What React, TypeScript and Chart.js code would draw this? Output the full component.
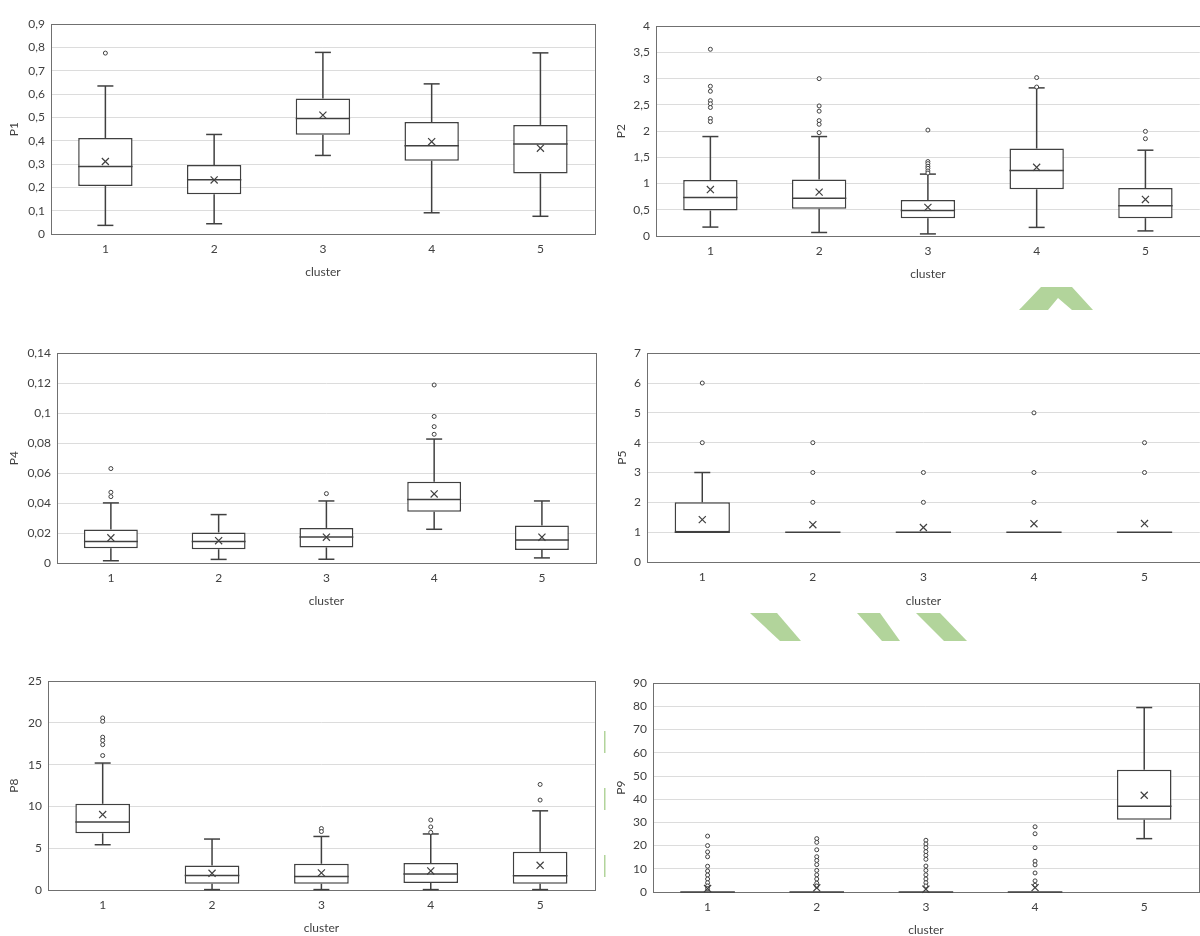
import React, { useEffect, useRef } from 'react';
import { Chart, registerables } from 'chart.js';
Chart.register(...registerables);

Chart.defaults.font.family = 'Lato, "Open Sans", sans-serif';
Chart.defaults.font.size = 12;
Chart.defaults.color = '#404040';

const INK = '#404040';
const GRID = '#dcdcdc';
const FRAME = '#707070';

const clusters = ['1', '2', '3', '4', '5'];

// P1
const p1Min = [0.037, 0.044, 0.337, 0.091, 0.076];
const p1Q1 = [0.206, 0.17, 0.426, 0.314, 0.259];
const p1Med = [0.29, 0.233, 0.496, 0.379, 0.386];
const p1Q3 = [0.412, 0.296, 0.581, 0.48, 0.468];
const p1Max = [0.635, 0.427, 0.779, 0.644, 0.777];
const p1Mean = [0.311, 0.232, 0.51, 0.396, 0.368];
const p1Out = [[0.776], [], [], [], []];

// P2
const p2Min = [0.17, 0.067, 0.04, 0.164, 0.097];
const p2Q1 = [0.485, 0.52, 0.34, 0.89, 0.34];
const p2Med = [0.733, 0.72, 0.485, 1.248, 0.576];
const p2Q3 = [1.067, 1.078, 0.685, 1.667, 0.915];
const p2Max = [1.896, 1.896, 1.18, 2.824, 1.636];
const p2Mean = [0.885, 0.836, 0.545, 1.31, 0.697];
const p2Out = [
  [3.56, 2.855, 2.76, 2.58, 2.52, 2.45, 2.24, 2.18],
  [3.0, 2.48, 2.38, 2.2, 2.13, 1.97],
  [2.02, 1.42, 1.38, 1.33, 1.29, 1.24, 1.2],
  [3.02, 2.84],
  [1.995, 1.855],
];

// P4
const p4Min = [0.0015, 0.0024, 0.0025, 0.0225, 0.0034];
const p4Q1 = [0.0098, 0.0092, 0.0104, 0.0342, 0.0087];
const p4Med = [0.0143, 0.0143, 0.0174, 0.0424, 0.0153];
const p4Q3 = [0.0223, 0.0204, 0.0234, 0.0543, 0.0251];
const p4Max = [0.0401, 0.0323, 0.0414, 0.0827, 0.0414];
const p4Mean = [0.0168, 0.0149, 0.0172, 0.0461, 0.0172];
const p4Out = [[0.063, 0.0472, 0.0443], [], [0.0463], [0.1188, 0.0978, 0.091, 0.0859], []];

// P5
const p5Min = [1, 1, 1, 1, 1];
const p5Q1 = [1, 1, 1, 1, 1];
const p5Med = [1, 1, 1, 1, 1];
const p5Q3 = [2, 1, 1, 1, 1];
const p5Max = [3, 1, 1, 1, 1];
const p5Mean = [1.42, 1.25, 1.157, 1.285, 1.29];
const p5Out = [[4, 6], [2, 3, 4], [2, 3], [2, 3, 5], [3, 4]];

// P8
const p8Min = [5.42, 0.05, 0.05, 0.05, 0.05];
const p8Q1 = [6.79, 0.75, 0.75, 0.83, 0.75];
const p8Med = [8.15, 1.74, 1.63, 1.93, 1.71];
const p8Q3 = [10.32, 2.92, 3.14, 3.22, 4.59];
const p8Max = [15.2, 6.1, 6.41, 6.71, 9.48];
const p8Mean = [9.03, 2.0, 2.05, 2.28, 2.96];
const p8Out = [[20.6, 20.2, 18.3, 17.9, 17.4, 16.1], [], [7.36, 7.0], [8.38, 7.55, 6.9], [12.64, 10.77]];

// P9
const p9Min = [0, 0, 0, 0, 23.0];
const p9Q1 = [0, 0, 0, 0, 31.1];
const p9Med = [0, 0, 0, 0, 37.0];
const p9Q3 = [0, 0, 0, 0, 52.7];
const p9Max = [0, 0, 0, 0, 79.5];
const p9Mean = [1.5, 1.8, 1.2, 1.9, 41.7];
const p9Out = [
  [24.1, 20.0, 17.3, 15.2, 11.1, 9.05, 7.3, 5.6, 4.0, 2.6, 1.5],
  [23.0, 21.4, 18.2, 15.2, 13.6, 11.8, 9.3, 7.4, 5.6, 3.8, 2.6],
  [22.3, 20.7, 19.1, 17.4, 15.8, 14.1, 11.2, 9.3, 7.4, 5.6, 4.0, 2.6],
  [28.1, 25.1, 19.1, 13.3, 11.7, 8.2, 4.8, 2.9],
  [],
];

type Stats = { min: number[]; q1: number[]; med: number[]; q3: number[]; max: number[]; mean: number[]; out: number[][] };
type PanelCfg = {
  title: string;
  stats: Stats;
  yMax: number;
  step: number;
  plot: { l: number; t: number; r: number; b: number };
  yTitleX: number;
  xTitleY: number;
};

const panels: PanelCfg[] = [
  { title: 'P1', stats: { min: p1Min, q1: p1Q1, med: p1Med, q3: p1Q3, max: p1Max, mean: p1Mean, out: p1Out }, yMax: 0.9, step: 0.1, plot: { l: 51, t: 14, r: 598, b: 234 }, yTitleX: 14, xTitleY: 272 },
  { title: 'P2', stats: { min: p2Min, q1: p2Q1, med: p2Med, q3: p2Q3, max: p2Max, mean: p2Mean, out: p2Out }, yMax: 4, step: 0.5, plot: { l: 656, t: 16, r: 1202.5, b: 236 }, yTitleX: 620.7, xTitleY: 274 },
  { title: 'P4', stats: { min: p4Min, q1: p4Q1, med: p4Med, q3: p4Q3, max: p4Max, mean: p4Mean, out: p4Out }, yMax: 0.14, step: 0.02, plot: { l: 57, t: 343, r: 599, b: 563 }, yTitleX: 14, xTitleY: 600.7 },
  { title: 'P5', stats: { min: p5Min, q1: p5Q1, med: p5Med, q3: p5Q3, max: p5Max, mean: p5Mean, out: p5Out }, yMax: 7, step: 1, plot: { l: 647, t: 343, r: 1203, b: 562 }, yTitleX: 621.7, xTitleY: 600.7 },
  { title: 'P8', stats: { min: p8Min, q1: p8Q1, med: p8Med, q3: p8Q3, max: p8Max, mean: p8Mean, out: p8Out }, yMax: 25, step: 5, plot: { l: 48, t: 671, r: 598, b: 890 }, yTitleX: 14, xTitleY: 928.3 },
  { title: 'P9', stats: { min: p9Min, q1: p9Q1, med: p9Med, q3: p9Q3, max: p9Max, mean: p9Mean, out: p9Out }, yMax: 90, step: 10, plot: { l: 653, t: 673, r: 1202, b: 892 }, yTitleX: 620.7, xTitleY: 930 },
];

const fmt = (v: any) => String(Math.round(Number(v) * 10000) / 10000).replace('.', ',');

function geom(cfg: PanelCfg) {
  const { plot } = cfg;
  const cx = Math.floor(cfg.yTitleX - 10);
  const cy = Math.floor(plot.t) - 3;
  const cr = Math.ceil(plot.r) + 3;
  const cb = Math.ceil(cfg.xTitleY) + 10;
  return { cx, cy, cr, cb, w: cr - cx, h: cb - cy };
}

function Panel({ cfg }: { cfg: PanelCfg }) {
  const ref = useRef<HTMLCanvasElement>(null);
  const g = geom(cfg);
  useEffect(() => {
    const s = cfg.stats;
    const { plot } = cfg;
    const outData: { x: string; y: number }[] = [];
    s.out.forEach((arr, i) => arr.forEach((v) => outData.push({ x: clusters[i], y: v })));
    const extras = {
      id: 'boxExtras',
      beforeDatasetsDraw(chart: any) {
        const a = chart.chartArea;
        const ctx = chart.ctx;
        ctx.save();
        ctx.strokeStyle = FRAME;
        ctx.lineWidth = 1;
        const l = Math.round(a.left) + 0.5;
        const t = Math.round(a.top) + 0.5;
        ctx.strokeRect(l, t, Math.round(a.right) - Math.round(a.left), Math.round(a.bottom) - Math.round(a.top));
        ctx.restore();
      },
      afterDatasetDraw(chart: any, args: any) {
        if (args.meta.type !== 'bar') return;
        const ctx = chart.ctx;
        const y = chart.scales.y;
        ctx.save();
        ctx.strokeStyle = INK;
        ctx.lineWidth = 1.5;
        const line = (x1: number, y1: number, x2: number, y2: number) => {
          ctx.beginPath();
          ctx.moveTo(x1, y1);
          ctx.lineTo(x2, y2);
          ctx.stroke();
        };
        args.meta.data.forEach((el: any, i: number) => {
          const x = el.x;
          const half = el.width / 2;
          const cap = 8;
          const yMin = y.getPixelForValue(s.min[i]);
          const yQ1 = y.getPixelForValue(s.q1[i]);
          const yMed = y.getPixelForValue(s.med[i]);
          const yQ3 = y.getPixelForValue(s.q3[i]);
          const yMax = y.getPixelForValue(s.max[i]);
          if (s.max[i] > s.q3[i]) {
            line(x, yQ3, x, yMax);
            line(x - cap, yMax, x + cap, yMax);
          }
          if (s.min[i] < s.q1[i]) {
            line(x, yQ1, x, yMin);
            line(x - cap, yMin, x + cap, yMin);
          }
          line(x - half, yMed, x + half, yMed);
        });
        ctx.restore();
      },
    };
    const chart = new Chart(ref.current as HTMLCanvasElement, {
      type: 'bar',
      data: {
        labels: clusters,
        datasets: [
          {
            type: 'line',
            label: 'mean',
            data: s.mean,
            showLine: false,
            pointStyle: 'crossRot',
            pointRadius: 5,
            pointBorderWidth: 1.2,
            pointBorderColor: INK,
            pointBackgroundColor: INK,
            clip: false,
            order: 1,
          } as any,
          {
            type: 'line',
            label: 'outliers',
            data: outData,
            showLine: false,
            pointStyle: 'circle',
            pointRadius: 2,
            pointBorderWidth: 1,
            pointBorderColor: INK,
            pointBackgroundColor: '#ffffff',
            clip: false,
            order: 2,
          } as any,
          {
            type: 'bar',
            label: 'box',
            data: s.q1.map((v, i) => [v, s.q3[i]]),
            backgroundColor: '#ffffff',
            borderColor: INK,
            borderWidth: 1.5,
            borderSkipped: false,
            barPercentage: 0.5,
            categoryPercentage: 1,
            order: 3,
          } as any,
        ],
      },
      options: {
        responsive: false,
        animation: false,
        layout: { padding: { left: 0, top: plot.t - g.cy, right: g.cr - plot.r, bottom: 0 } },
        plugins: { legend: { display: false }, tooltip: { enabled: false } },
        scales: {
          x: {
            type: 'category',
            offset: true,
            grid: { display: false, drawTicks: false },
            border: { display: false },
            ticks: { padding: 8, maxRotation: 0 },
            title: { display: true, text: 'cluster', padding: { top: 0, bottom: g.cb - cfg.xTitleY - 7.2 } },
            afterFit: (sc: any) => {
              sc.height = g.cb - plot.b;
            },
          },
          y: {
            min: 0,
            max: cfg.yMax,
            ticks: { stepSize: cfg.step, padding: 6, callback: fmt },
            grid: { color: GRID, drawTicks: false },
            border: { display: false },
            title: { display: true, text: cfg.title, padding: { top: cfg.yTitleX - g.cx - 7.2, bottom: 0 } },
            afterFit: (sc: any) => {
              sc.width = plot.l - g.cx;
            },
          },
        },
      } as any,
      plugins: [extras as any],
    });
    return () => chart.destroy();
  }, []);
  return (
    <div style={{ position: 'absolute', left: g.cx, top: g.cy, width: g.w, height: g.h }}>
      <canvas ref={ref} width={g.w} height={g.h} style={{ width: g.w, height: g.h, display: 'block' }} />
    </div>
  );
}

export default function App() {
  const green = '#b2d49b';
  return (
    <div style={{ position: 'fixed', left: 0, top: 0, width: 1200, height: 936, overflow: 'hidden', background: '#ffffff' }}>
      {panels.map((p) => (
        <Panel key={p.title} cfg={p} />
      ))}
      <svg width={1200} height={936} style={{ position: 'absolute', left: 0, top: 0, pointerEvents: 'none' }}>
        <polygon points="1019,310 1041,287 1072,287 1093,310 1072,310 1058,298 1048,310" fill={green} />
        <polygon points="750,613 777,613 801,641 780,641" fill={green} />
        <polygon points="857,613 880,613 900,641 882,641" fill={green} />
        <polygon points="916,613 940,613 967,641 944,641" fill={green} />
        <rect x={604} y={731} width={1.5} height={22} fill={green} />
        <rect x={604} y={788} width={1.5} height={22} fill={green} />
        <rect x={604} y={855} width={1.5} height={22} fill={green} />
      </svg>
    </div>
  );
}
